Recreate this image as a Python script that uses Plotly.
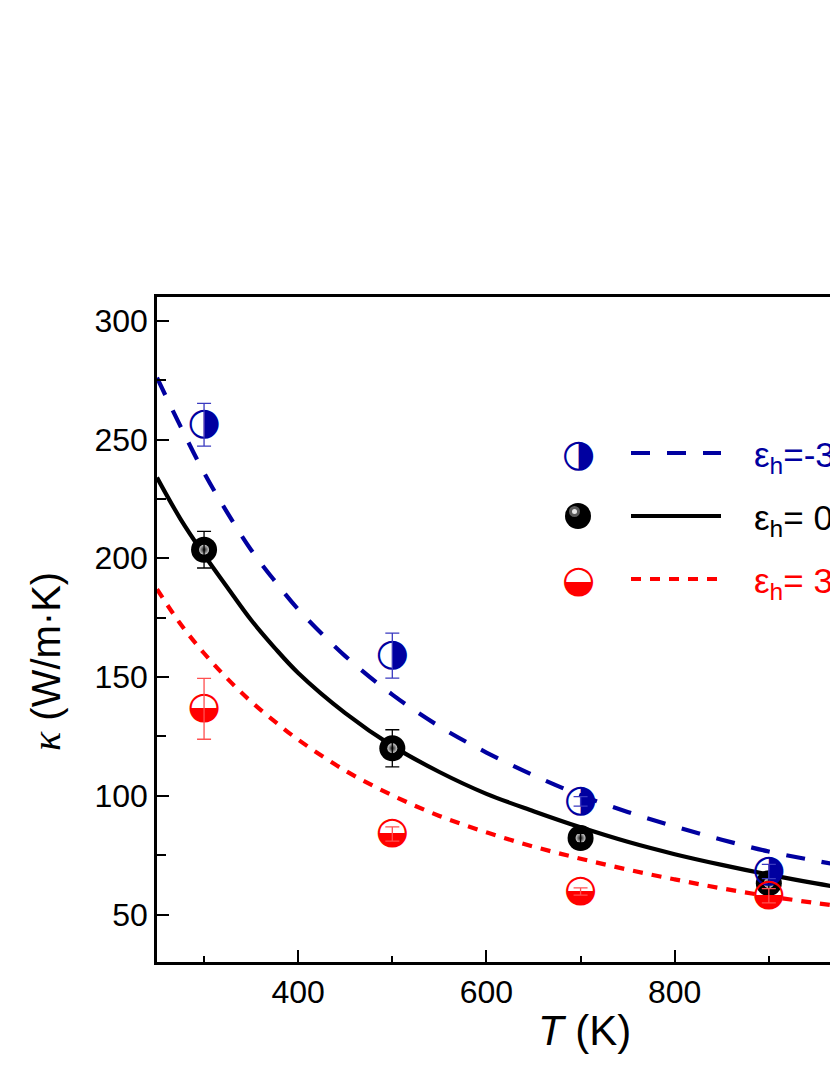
import plotly.graph_objects as go

# ---------------- data ----------------
T_pts = [300, 500, 700, 900]
k_neg = [256.2, 159.0, 97.6, 68.1]      # eps_h = -3%
e_neg = [9.0, 9.5, 2.0, 3.0]
k_zero = [203.6, 120.0, 82.2, 63.2]     # eps_h = 0
e_zero = [7.7, 7.8, 2.0, 3.0]
k_pos = [136.6, 83.9, 59.7, 57.9]       # eps_h = 3%
e_pos = [12.8, 3.0, 1.5, 3.0]

T_fit = [250, 275, 300, 325, 350, 375, 400, 450, 500, 550, 600, 650, 700, 750, 800, 850, 900, 950, 1000]
fit_neg = [276.0, 255.5, 236.0, 219.0, 203.5, 190.5, 178.5, 158.8, 142.6, 129.2, 118.2, 108.6, 100.2, 93.2, 87.1, 81.5, 76.5, 72.6, 69.0]
fit_zero = [234.0, 216.5, 201.5, 187.6, 174.0, 162.3, 151.7, 134.8, 121.0, 110.0, 100.8, 93.5, 86.7, 80.6, 75.4, 70.9, 66.8, 63.1, 59.9]
fit_pos = [187.0, 172.3, 160.0, 149.2, 139.6, 131.3, 123.6, 110.6, 100.2, 91.5, 84.6, 78.6, 73.5, 68.9, 64.8, 61.0, 57.7, 54.8, 52.3]

legend_labels = ["ε<sub>h</sub>=-3%", "ε<sub>h</sub>= 0", "ε<sub>h</sub>= 3%"]

BLUE = "#0000A0"
RED = "#FF0000"
BLACK = "#000000"
GLYPH_FONT = "DejaVu Sans"
GLYPH_SIZE = 38

W, H = 830, 1075
OFF = 0                      # page offset of the plot div (body margin removed below)
L, R, TOP, B = 157, 0, 297, 113
PW, PH = W - L - R, H - TOP - B


def px(x):
    return (x - OFF - L) / PW


def py(y):
    return (H - B - (y - OFF)) / PH


fig = go.Figure()

# fitted curves
fig.add_trace(go.Scatter(x=T_fit, y=fit_neg, mode="lines", line=dict(color=BLUE, width=4.2, dash="19px,17px", shape="spline"), showlegend=False))
fig.add_trace(go.Scatter(x=T_fit, y=fit_zero, mode="lines", line=dict(color=BLACK, width=4.2, shape="spline"), showlegend=False))
fig.add_trace(go.Scatter(x=T_fit, y=fit_pos, mode="lines", line=dict(color=RED, width=4.2, dash="10px,9px", shape="spline"), showlegend=False))

# black spheres
fig.add_trace(go.Scatter(x=T_pts, y=k_zero, mode="markers",
                         marker=dict(size=26, color=BLACK, line=dict(width=0)), showlegend=False))
fig.add_trace(go.Scatter(x=T_pts, y=k_zero, mode="markers",
                         marker=dict(size=10, color="#d0d0d0", line=dict(width=0),
                                     gradient=dict(type="radial", color="#101010")),
                         showlegend=False))
fig.add_trace(go.Scatter(x=T_pts, y=k_zero, mode="markers", marker=dict(size=1, color="rgba(0,0,0,0)"),
                         error_y=dict(type="data", array=e_zero, color=BLACK, thickness=1.3, width=7),
                         showlegend=False))
# half-filled circles (blue: right half filled)
fig.add_trace(go.Scatter(x=T_pts, y=k_neg, mode="text", text=["◑"] * len(T_pts), textposition="middle center",
                         textfont=dict(family=GLYPH_FONT, size=GLYPH_SIZE, color=BLUE), showlegend=False))
fig.add_trace(go.Scatter(x=T_pts, y=k_neg, mode="markers", marker=dict(size=1, color="rgba(0,0,0,0)"),
                         error_y=dict(type="data", array=e_neg, color="#3a3ac0", thickness=1.3, width=7),
                         showlegend=False))
# red: lower half filled
fig.add_trace(go.Scatter(x=T_pts, y=k_pos, mode="text", text=["◒"] * len(T_pts), textposition="middle center",
                         textfont=dict(family=GLYPH_FONT, size=GLYPH_SIZE, color=RED), showlegend=False))
fig.add_trace(go.Scatter(x=T_pts, y=k_pos, mode="markers", marker=dict(size=1, color="rgba(0,0,0,0)"),
                         error_y=dict(type="data", array=e_pos, color="#ff5050", thickness=1.3, width=7),
                         showlegend=False))

# ---------------- hand-made legend (Origin style) ----------------
rows = [453, 516, 579]
colors = [BLUE, BLACK, RED]
dashes = ["19px,17px", "solid", "10px,9px"]
annotations = []
shapes = []
for i, (row, col, lab) in enumerate(zip(rows, colors, legend_labels)):
    shapes.append(dict(type="line", xref="paper", yref="paper", x0=px(631), x1=px(721), y0=py(row), y1=py(row),
                       line=dict(color=col, width=4.2, dash=dashes[i])))
    annotations.append(dict(xref="paper", yref="paper", x=px(752), y=py(row + 4), xanchor="left", yanchor="middle",
                            text=lab, showarrow=False, font=dict(family="Liberation Sans", size=35, color=col)))
annotations.append(dict(xref="paper", yref="paper", x=px(578), y=py(rows[0]), xanchor="center", yanchor="middle",
                        text="◑", showarrow=False, font=dict(family=GLYPH_FONT, size=GLYPH_SIZE, color=BLUE)))
annotations.append(dict(xref="paper", yref="paper", x=px(578), y=py(rows[2]), xanchor="center", yanchor="middle",
                        text="◒", showarrow=False, font=dict(family=GLYPH_FONT, size=GLYPH_SIZE, color=RED)))
shapes.append(dict(type="circle", xref="paper", yref="paper", x0=px(565), x1=px(591), y0=py(529), y1=py(503),
                   fillcolor=BLACK, line=dict(width=0)))
shapes.append(dict(type="circle", xref="paper", yref="paper", x0=px(569), x1=px(580), y0=py(517), y1=py(506),
                   fillcolor="#5a5a5a", line=dict(width=0)))
shapes.append(dict(type="circle", xref="paper", yref="paper", x0=px(572), x1=px(577), y0=py(514), y1=py(509),
                   fillcolor="#e8e8e8", line=dict(width=0)))

# axis titles
annotations.append(dict(xref="paper", yref="paper", x=px(584), y=py(1030), xanchor="center", yanchor="middle",
                        text="<i>T</i> (K)", showarrow=False, font=dict(family="Liberation Sans", size=42, color=BLACK)))
annotations.append(dict(xref="paper", yref="paper", x=px(46), y=py(662), xanchor="center", yanchor="middle", textangle=-90,
                        text="<span style=\"font-family:'Liberation Serif'\"><i>κ</i></span> (W/m·K)", showarrow=False,
                        font=dict(family="Liberation Sans", size=40, color=BLACK)))

fig.update_layout(
    width=W, height=H,
    margin=dict(l=L, r=R, t=TOP, b=B, pad=0),
    paper_bgcolor="white", plot_bgcolor="white",
    showlegend=False,
    annotations=annotations, shapes=shapes,
    font=dict(family="Liberation Sans", size=32, color=BLACK),
)
fig.update_xaxes(range=[250, 965], showgrid=False, zeroline=False,
                 showline=True, linecolor=BLACK, linewidth=2.6, mirror=True,
                 tickmode="array", tickvals=[400, 600, 800], ticks="inside", ticklen=12, tickwidth=2.4, tickcolor=BLACK,
                 tickfont=dict(family="Liberation Sans", size=32),
                 minor=dict(tickvals=[300, 500, 700, 900], ticks="inside", ticklen=6, tickwidth=2.4, tickcolor=BLACK))
fig.update_yaxes(range=[30, 310], showgrid=False, zeroline=False,
                 showline=True, linecolor=BLACK, linewidth=2.6, mirror=False,
                 tickmode="array", tickvals=[50, 100, 150, 200, 250, 300], ticks="inside", ticklen=12, tickwidth=2.4, tickcolor=BLACK,
                 tickfont=dict(family="Liberation Sans", size=32),
                 minor=dict(tickvals=[75, 125, 175, 225, 275], ticks="inside", ticklen=9, tickwidth=2.4, tickcolor=BLACK))

fig.write_html("out.html", config={"displayModeBar": False},
               post_script="document.body.style.margin='0';document.documentElement.style.overflow='hidden';")
